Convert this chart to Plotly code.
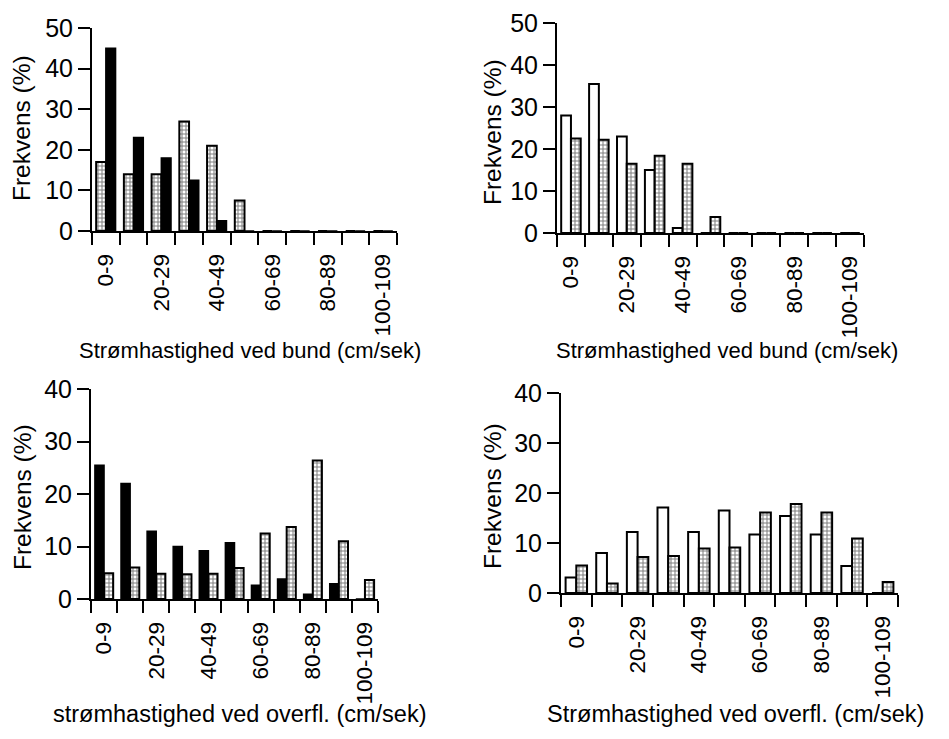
import plotly.graph_objects as go

# ---- data ----
categories = ["0-9", "10-19", "20-29", "30-39", "40-49", "50-59",
              "60-69", "70-79", "80-89", "90-99", "100-109"]
shown_labels = ["0-9", "", "20-29", "", "40-49", "", "60-69", "", "80-89", "", "100-109"]

# top-left: bottom current
p1_dotted = [17, 14, 14, 27, 21, 7.5, 0, 0, 0, 0, 0]
p1_black = [45, 23, 18, 12.5, 2.5, 0, 0, 0, 0, 0, 0]
# top-right: bottom current
p2_white = [28, 35.5, 23, 15, 1.2, 0, 0, 0, 0, 0, 0]
p2_dotted = [22.5, 22.2, 16.5, 18.4, 16.5, 3.8, 0, 0, 0, 0, 0]
# bottom-left: surface current
p3_black = [25.5, 22, 12.9, 10, 9.2, 10.7, 2.6, 3.8, 0.9, 2.9, 0]
p3_dotted = [4.9, 6, 4.8, 4.7, 4.8, 5.9, 12.5, 13.7, 26.4, 11, 3.6]
# bottom-right: surface current
p4_white = [3.1, 8, 12.2, 17.1, 12.2, 16.5, 11.7, 15.4, 11.7, 5.4, 0]
p4_dotted = [5.5, 1.9, 7.2, 7.4, 8.9, 9.1, 16.1, 17.8, 16.1, 10.9, 2.2]

y_title = "Frekvens (%)"
x_titles = ["Strømhastighed ved bund (cm/sek)",
            "Strømhastighed ved bund (cm/sek)",
            "strømhastighed ved overfl. (cm/sek)",
            "Strømhastighed ved overfl. (cm/sek)"]
y_ranges = [50, 50, 40, 40]

OFF = 8
W, H = 949 - 2 * OFF, 739 - 2 * OFF
FONT = "Liberation Sans, Arial, sans-serif"
xpos = list(range(len(categories)))


def fx(px):
    return (px - OFF) / W


def fy(py):
    return 1 - (py - OFF) / H


def style(kind):
    if kind == "black":
        return dict(color="black", line=dict(color="black", width=1.5))
    if kind == "white":
        return dict(color="white", line=dict(color="black", width=2))
    return dict(color="white", line=dict(color="black", width=2),
                pattern=dict(shape="+", fgcolor="black", bgcolor="white",
                             size=4, solidity=0.45))


panels = [
    [("dotted", p1_dotted), ("black", p1_black)],
    [("white", p2_white), ("dotted", p2_dotted)],
    [("black", p3_black), ("dotted", p3_dotted)],
    [("white", p4_white), ("dotted", p4_dotted)],
]

# window-pixel boxes of the plotting areas: (x0, x1, ytop, ybottom)
boxes = [(92, 397, 28, 231), (557, 864, 23, 233),
         (91, 378, 389, 599), (561, 898, 393, 593)]
ytitle_pos = [(22, 128), (492, 132), (22, 497), (492, 496)]
xtitle_pos = [(250, 350), (727, 350), (240, 714), (735, 714)]
xtitle_size = [22, 22, 23.5, 23.5]

fig = go.Figure()
layout = dict(width=W, height=H, margin=dict(l=0, r=0, t=0, b=0, pad=0),
              paper_bgcolor="white", plot_bgcolor="white",
              showlegend=False, barmode="group", bargap=0.3, bargroupgap=0,
              font=dict(family=FONT, color="black", size=22))
annotations = []
for i, (traces, box) in enumerate(zip(panels, boxes)):
    n = i + 1
    xa = "x" if n == 1 else f"x{n}"
    ya = "y" if n == 1 else f"y{n}"
    for j, (kind, vals) in enumerate(traces):
        fig.add_trace(go.Bar(x=xpos, y=vals, xaxis=xa, yaxis=ya,
                             marker=style(kind), offsetgroup=str(j)))
    x0, x1, yt, yb = box
    xkey = "xaxis" if n == 1 else f"xaxis{n}"
    ykey = "yaxis" if n == 1 else f"yaxis{n}"
    layout[xkey] = dict(
        domain=[fx(x0), fx(x1)], anchor=ya, range=[-0.5, len(categories) - 0.5],
        automargin=False,
        tickmode="array", tickvals=xpos, ticktext=shown_labels, ticks="",
        tickangle=-90, showline=True, linecolor="black", linewidth=2,
        showgrid=False, zeroline=False, ticklabelstandoff=12,
        tickfont=dict(size=22.5),
        minor=dict(tickmode="array",
                   tickvals=[k - 0.5 for k in range(len(categories) + 1)],
                   ticks="outside", ticklen=12, tickwidth=2, tickcolor="black",
                   showgrid=False))
    layout[ykey] = dict(
        domain=[fy(yb), fy(yt)], anchor=xa, range=[0, y_ranges[i]],
        automargin=False,
        tickmode="linear", tick0=0, dtick=10, ticks="outside", ticklen=12,
        tickwidth=2, tickcolor="black", showline=True, linecolor="black",
        linewidth=2, showgrid=False, zeroline=False, tickfont=dict(size=25))
    tx, ty = ytitle_pos[i]
    annotations.append(dict(text=y_title, x=fx(tx), y=fy(ty), xref="paper",
                            yref="paper", showarrow=False, textangle=-90,
                            font=dict(size=24.5), xanchor="center", yanchor="middle"))
    tx, ty = xtitle_pos[i]
    annotations.append(dict(text=x_titles[i], x=fx(tx), y=fy(ty), xref="paper",
                            yref="paper", showarrow=False,
                            font=dict(size=xtitle_size[i]),
                            xanchor="center", yanchor="middle"))
layout["annotations"] = annotations
fig.update_layout(**layout)
fig.write_html("out.html")
